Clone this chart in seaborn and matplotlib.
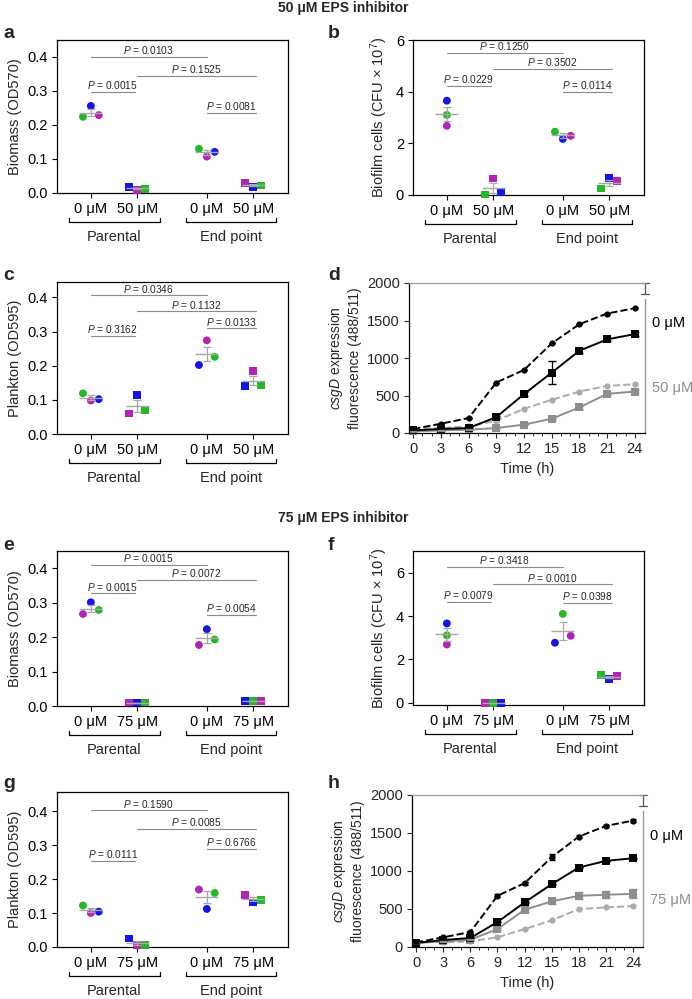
import numpy as np
import pandas as pd
import matplotlib
matplotlib.use('Agg')
import matplotlib.pyplot as plt
import seaborn as sns
from matplotlib.transforms import blended_transform_factory, ScaledTranslation

sns.set_theme(style='ticks')
plt.rcParams['font.family'] = ['Liberation Sans', 'DejaVu Sans']
plt.rcParams['mathtext.fontset'] = 'custom'
plt.rcParams['mathtext.rm'] = 'Liberation Sans'
plt.rcParams['mathtext.it'] = 'Liberation Sans:italic'
plt.rcParams['mathtext.bf'] = 'Liberation Sans:bold'

# ---------------- data ----------------
groups = ['Parental', 'End point']
conc_50 = ['0 μM', '50 μM', '0 μM', '50 μM']
conc_75 = ['0 μM', '75 μM', '0 μM', '75 μM']

# replicate values per condition (left, centre, right) and replicate colours
a_vals = [[0.224, 0.256, 0.229], [0.018, 0.010, 0.013], [0.130, 0.107, 0.121], [0.030, 0.018, 0.022]]
a_cols = [['g', 'b', 'm'], ['b', 'm', 'g'], ['g', 'm', 'b'], ['m', 'b', 'g']]
a_p = [('0.0103', 0.400), ('0.1525', 0.344), ('0.0015', 0.297), ('0.0081', 0.235)]

b_vals = [[3.65, 3.10, 2.68], [0.02, 0.64, 0.10], [2.45, 2.17, 2.29], [0.25, 0.65, 0.54]]
b_cols = [['b', 'g', 'm'], ['g', 'm', 'b'], ['g', 'b', 'm'], ['g', 'b', 'm']]
b_p = [('0.1250', 5.51), ('0.3502', 4.87), ('0.0229', 4.23), ('0.0114', 3.99)]

c_vals = [[0.119, 0.098, 0.102], [0.060, 0.115, 0.070], [0.202, 0.274, 0.226], [0.141, 0.184, 0.144]]
c_cols = [['g', 'm', 'b'], ['m', 'b', 'g'], ['b', 'm', 'g'], ['b', 'm', 'g']]
c_p = [('0.0346', 0.406), ('0.1132', 0.359), ('0.3162', 0.287), ('0.0133', 0.309)]

e_vals = [[0.267, 0.301, 0.279], [0.010, 0.010, 0.010], [0.177, 0.223, 0.193], [0.014, 0.014, 0.014]]
e_cols = [['m', 'b', 'g'], ['m', 'b', 'g'], ['m', 'b', 'g'], ['b', 'g', 'm']]
e_p = [('0.0015', 0.409), ('0.0072', 0.367), ('0.0015', 0.327), ('0.0054', 0.264)]

f_vals = [[3.66, 3.11, 2.69], [0.01, 0.01, 0.01], [2.77, 4.10, 3.09], [1.27, 1.10, 1.24]]
f_cols = [['b', 'g', 'm'], ['m', 'g', 'b'], ['b', 'g', 'm'], ['g', 'b', 'm']]
f_p = [('0.3418', 6.28), ('0.0010', 5.46), ('0.0079', 4.64), ('0.0398', 4.62)]

g_vals = [[0.122, 0.100, 0.104], [0.025, 0.007, 0.007], [0.169, 0.112, 0.159], [0.152, 0.131, 0.138]]
g_cols = [['g', 'm', 'b'], ['b', 'm', 'g'], ['m', 'b', 'g'], ['m', 'b', 'g']]
g_p = [('0.1590', 0.402), ('0.0085', 0.347), ('0.0111', 0.253), ('0.6766', 0.289)]

time_h = [0, 3, 6, 9, 12, 15, 18, 21, 24]
d_par0 = [53, 124, 199, 673, 841, 1195, 1451, 1593, 1664]
d_end0 = [35, 53, 66, 212, 518, 805, 1097, 1248, 1319]
d_parI = [58, 66, 88, 164, 323, 443, 553, 628, 650]
d_endI = [22, 35, 44, 66, 111, 190, 341, 522, 553]
d_end0_sem = [5, 5, 8, 15, 25, 150, 30, 25, 25]
d_endI_sem = [5, 5, 5, 8, 10, 15, 20, 20, 20]

h_par0 = [61, 127, 197, 674, 840, 1182, 1453, 1593, 1663]
h_end0 = [53, 92, 118, 328, 586, 827, 1046, 1133, 1168]
h_parI = [70, 61, 74, 127, 236, 350, 499, 521, 538]
h_endI = [53, 74, 96, 236, 490, 600, 674, 687, 700]
h_par0_sem = [5, 10, 10, 20, 20, 40, 20, 15, 15]
h_endI_sem = [5, 5, 8, 15, 35, 40, 45, 45, 60]

# ---------------- styling ----------------
W, H = 692, 999
fig = plt.figure(figsize=(W / 100, H / 100), dpi=100)
pal = {'b': '#1414e6', 'g': '#25b825', 'm': '#b424b4'}
MEAN_C = '#a8a8a8'
SIG_C = '#8a8a8a'
FS = 10.5
POS = [0, 1, 2.5, 3.5]


def add_ax(l, t, r, b):
    return fig.add_axes([l / W, 1 - b / H, (r - l) / W, (b - t) / H])


def cat_panel(ax, vals, cols, concs, ylim, yticks, yfmt, ylabel, plines, aligned=()):
    rows = []
    for gi, (v, c) in enumerate(zip(vals, cols)):
        offs = [0, 0, 0] if gi in aligned else [-0.17, 0, 0.17]
        for j in range(3):
            rows.append(dict(x=POS[gi] + offs[j], y=v[j], rep=c[j],
                             shape='o' if gi % 2 == 0 else 's'))
    df = pd.DataFrame(rows)
    sns.scatterplot(data=df, x='x', y='y', hue='rep', style='shape', palette=pal,
                    markers={'o': 'o', 's': 's'}, s=32, edgecolor='none',
                    legend=False, ax=ax, clip_on=False, zorder=3)
    for gi, v in enumerate(vals):
        m = np.mean(v)
        se = np.std(v, ddof=1) / np.sqrt(len(v))
        ax.hlines(m, POS[gi] - 0.25, POS[gi] + 0.25, color=MEAN_C, lw=1.0, zorder=4)
        ax.errorbar(POS[gi], m, yerr=se, color=MEAN_C, capsize=3, lw=0.9,
                    capthick=0.9, zorder=4)
    spans = [(0, 2.5), (1, 3.55), (0, 0.95), (2.5, 3.55)]
    for (txt, yv), (x1, x2) in zip(plines, spans):
        ax.plot([x1, x2], [yv, yv], color=SIG_C, lw=0.8)
        ax.annotate(r'$P$ = ' + txt, xy=((x1 + x2) / 2, yv), xytext=(0, 0.5),
                    textcoords='offset points', ha='center', va='bottom', fontsize=7.3)
    ax.set_xlim(-0.73, 4.25)
    ax.set_ylim(*ylim)
    ax.set_yticks(yticks)
    ax.set_yticklabels([yfmt.format(t) for t in yticks], fontsize=FS)
    ax.set_xticks(POS)
    ax.set_xticklabels(concs, fontsize=FS)
    ax.set_xlabel('')
    ax.set_ylabel(ylabel, fontsize=FS)
    ax.tick_params(length=3.5, width=0.8, pad=3, colors='black')
    for s in ax.spines.values():
        s.set_visible(True)
        s.set_linewidth(0.9)
        s.set_color('black')
    # group brackets
    for (x1, x2), name in zip([(-0.48, 1.48), (2.05, 4.0)], groups):
        t2 = blended_transform_factory(ax.transData, ax.transAxes) + \
            ScaledTranslation(0, -21 / 72, fig.dpi_scale_trans)
        ax.plot([x1, x1, x2, x2], [0.025, 0, 0, 0.025], transform=t2, color='black',
                lw=0.9, clip_on=False)
        t3 = blended_transform_factory(ax.transData, ax.transAxes) + \
            ScaledTranslation(0, -32 / 72, fig.dpi_scale_trans)
        ax.text((x1 + x2) / 2, 0, name, transform=t3, ha='center', va='center',
                fontsize=FS)


def line_panel(ax, par0, end0, parI, endI, semE0, semEI, semP0, inh_label):
    df = pd.DataFrame({'t': time_h * 4,
                       'v': par0 + end0 + parI + endI,
                       's': ['p0'] * 9 + ['e0'] * 9 + ['pI'] * 9 + ['eI'] * 9})
    spec = {'p0': ('black', 'o', (3.5, 2.2), 4.5),
            'e0': ('black', 's', '', 5.7),
            'pI': ('#ababab', 'o', (3.5, 2.2), 4.5),
            'eI': ('#8e8e8e', 's', '', 5.7)}
    for key in ['pI', 'eI', 'p0', 'e0']:
        col, mk, ds, ms = spec[key]
        sub = df[df.s == key]
        sns.lineplot(data=sub, x='t', y='v', color=col, marker=mk, markersize=ms,
                     markeredgewidth=0, lw=1.4, ax=ax, clip_on=False,
                     dashes=ds if ds else (None, None),
                     linestyle='--' if ds else '-')
    ax.errorbar(time_h, end0, yerr=semE0, fmt='none', ecolor='black', lw=0.9, capsize=3)
    ax.errorbar(time_h, endI, yerr=semEI, fmt='none', ecolor='#8e8e8e', lw=0.9, capsize=3)
    ax.errorbar(time_h, par0, yerr=semP0, fmt='none', ecolor='black', lw=0.9, capsize=2)
    ax.set_xlim(-0.45, 25.1)
    ax.set_ylim(0, 2000)
    ax.set_xticks(range(0, 25, 3))
    ax.set_xticks(range(0, 25), minor=True)
    ax.set_yticks([0, 500, 1000, 1500, 2000])
    ax.tick_params(which='major', length=3.5, width=0.8, labelsize=FS, pad=3)
    ax.tick_params(which='minor', length=2, width=0.7)
    ax.set_xlabel('Time (h)', fontsize=FS)
    ax.set_ylabel('$\\it{csgD}$ expression\nfluorescence (488/511)', fontsize=10,
                  linespacing=1.25)
    for k in ['left', 'bottom']:
        ax.spines[k].set_color('black')
        ax.spines[k].set_linewidth(0.9)
    ax.spines['top'].set_visible(True)
    ax.spines['top'].set_color('#9a9a9a')
    ax.spines['top'].set_linewidth(0.9)
    ax.spines['right'].set_visible(False)
    ax.plot([1, 1], [0, 0.895], transform=ax.transAxes, color='#9a9a9a', lw=1.0,
            clip_on=False)
    ax.plot([1, 1], [0.93, 0.997], transform=ax.transAxes, color='#555555', lw=0.9,
            clip_on=False)
    for yy in [0.93, 0.997]:
        ax.plot([0.983, 1.017], [yy, yy], transform=ax.transAxes, color='#555555',
                lw=0.9, clip_on=False)
    tb = blended_transform_factory(ax.transAxes, ax.transData)
    ax.text(1.03, par0[-1] - 200, '0 μM', transform=tb, fontsize=FS, color='black',
            va='center', ha='left')
    ax.text(1.03, (parI[-1] + endI[-1]) / 2, inh_label, transform=tb, fontsize=FS,
            color='#8e8e8e', va='center', ha='left')


# panels
ax_a = add_ax(57, 40, 288, 193)
cat_panel(ax_a, a_vals, a_cols, conc_50, (0, 0.45), [0, 0.1, 0.2, 0.3, 0.4], '{:.1f}',
          'Biomass (OD570)', a_p)
ax_b = add_ax(413, 40, 644, 195)
cat_panel(ax_b, b_vals, b_cols, conc_50, (0, 6), [0, 2, 4, 6], '{:d}',
          'Biofilm cells (CFU × 10$^{7}$)', b_p, aligned=(0,))
ax_c = add_ax(57, 282, 288, 434)
cat_panel(ax_c, c_vals, c_cols, conc_50, (0, 0.445), [0, 0.1, 0.2, 0.3, 0.4], '{:.1f}',
          'Plankton (OD595)', c_p)
ax_d = add_ax(409, 283, 645, 433)
line_panel(ax_d, d_par0, d_end0, d_parI, d_endI, d_end0_sem, d_endI_sem,
           [0] * 9, '50 μM')

ax_e = add_ax(57, 551, 288, 706)
cat_panel(ax_e, e_vals, e_cols, conc_75, (0, 0.45), [0, 0.1, 0.2, 0.3, 0.4], '{:.1f}',
          'Biomass (OD570)', e_p)
ax_f = add_ax(413, 551, 644, 705)
cat_panel(ax_f, f_vals, f_cols, conc_75, (-0.1, 7.0), [0, 2, 4, 6], '{:d}',
          'Biofilm cells (CFU × 10$^{7}$)', f_p, aligned=(0,))
ax_g = add_ax(57, 792, 288, 947)
cat_panel(ax_g, g_vals, g_cols, conc_75, (0, 0.456), [0, 0.1, 0.2, 0.3, 0.4], '{:.1f}',
          'Plankton (OD595)', g_p)
ax_h = add_ax(412, 795, 643, 947)
line_panel(ax_h, h_par0, h_end0, h_parI, h_endI, [5] * 9, h_endI_sem, h_par0_sem,
           '75 μM')

# titles and panel letters
fig.text(343 / W, 1 - 8 / H, '50 μM EPS inhibitor', ha='center', va='center',
         fontsize=10, fontweight='bold')
fig.text(343 / W, 1 - 518 / H, '75 μM EPS inhibitor', ha='center', va='center',
         fontsize=10, fontweight='bold')
for lt, (x, y) in zip('abcdefgh', [(3, 33), (328, 33), (3, 275), (328, 275),
                                    (3, 545), (328, 545), (3, 783), (328, 783)]):
    fig.text(x / W, 1 - y / H, lt, ha='left', va='center', fontsize=14,
             fontweight='bold')

fig.savefig('out.png', dpi=100)
